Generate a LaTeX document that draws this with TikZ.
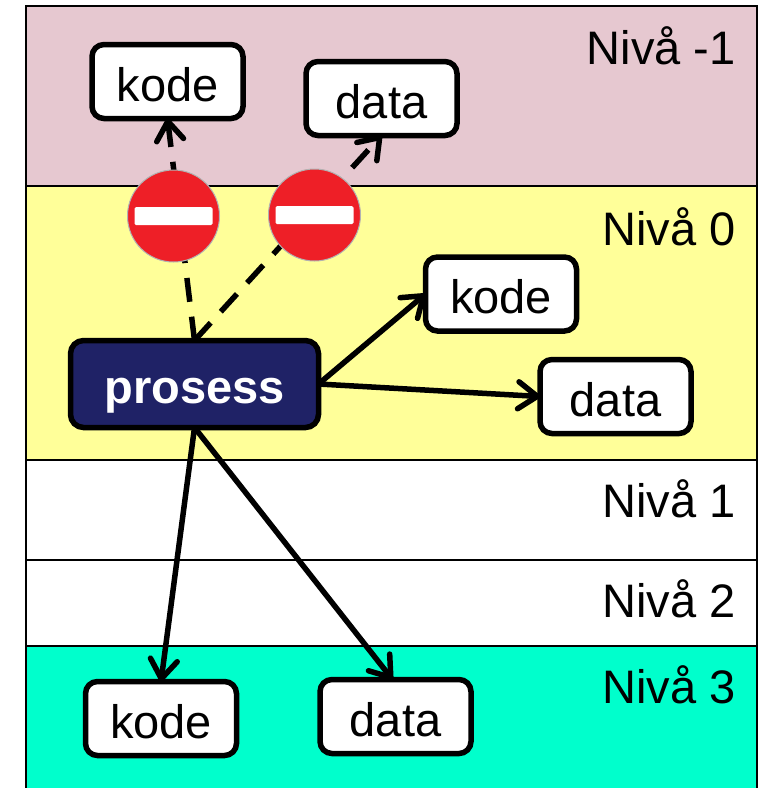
\documentclass[tikz,border=0pt]{standalone}
\usepackage{fontspec}
\setmainfont{Liberation Sans}
\usetikzlibrary{arrows.meta}
\definecolor{bandtop}{HTML}{E6C8D0}
\definecolor{bandyellow}{HTML}{FFFF99}
\definecolor{bandteal}{HTML}{00FFCC}
\definecolor{procblue}{HTML}{1F2266}
\definecolor{signred}{HTML}{EE1F27}
\tikzset{
  x=1pt,y=-1pt,
  band/.style={draw=black,line width=2pt},
  levellabel/.style={anchor=base east,font=\fontsize{47}{47}\selectfont,inner sep=0pt},
  store/.style={draw=black,fill=white,line width=5.5pt,rounded corners=12pt,minimum width=151pt,minimum height=74pt,inner sep=0pt,outer sep=0pt,text height=39pt,text depth=0pt,font=\fontsize{47}{47}\selectfont},
  process/.style={draw=black,fill=procblue,line width=5.5pt,rounded corners=13pt,minimum width=248pt,minimum height=87pt,inner sep=0pt,outer sep=0pt,text=white,text height=38pt,text depth=0pt,font=\fontsize{47}{47}\selectfont\bfseries},
  signdisc/.style={circle,draw=gray!60,fill=signred,line width=1pt,minimum size=92pt,inner sep=0pt},
  signbar/.style={fill=white,rounded corners=1.5pt,minimum width=78pt,minimum height=18pt,inner sep=0pt},
  link/.style={line width=5.5pt,-{Straight Barb[length=19pt,width=27pt,line width=5.5pt,round]}},
  blocked/.style={link,dash pattern=on 24pt off 15pt},
}
\begin{document}
\begin{tikzpicture}
\useasboundingbox (0,0) rectangle (764,788);
\fill[white] (0,0) rectangle (764,788);
\path[band,fill=bandtop] (26,6) rectangle (757,186);
\path[band,fill=bandyellow] (26,186) rectangle (757,460);
\path[band,fill=white] (26,460) rectangle (757,560);
\path[band,fill=white] (26,560) rectangle (757,646);
\path[band,fill=bandteal] (26,646) rectangle (757,800);
\node[levellabel] (l0) at (736,64) {Nivå -1};
\node[levellabel] (l1) at (736,245) {Nivå 0};
\node[levellabel] (l2) at (736,517) {Nivå 1};
\node[levellabel] (l3) at (736,617) {Nivå 2};
\node[levellabel] (l4) at (736,703) {Nivå 3};
\node[store] (kodeA) at (167.5,81.5) {kode};
\node[store] (dataA) at (381.5,98.5) {data};
\node[store] (kodeB) at (501,294) {kode};
\node[store] (dataB) at (615.5,396.5) {data};
\node[store] (kodeC) at (161,718.5) {kode};
\node[store] (dataC) at (395.5,716.5) {data};
\node[process] (prosess) at (194.5,384) {prosess};
\draw[blocked] (prosess.north) -- (kodeA.south);
\draw[blocked] (prosess.north) -- (dataA.south);
\draw[link] (prosess.east) -- (kodeB.west);
\draw[link] (prosess.east) -- (dataB.west);
\draw[link] (prosess.south) -- (kodeC.north);
\draw[link] (prosess.south) -- ([xshift=-3pt]dataC.north);
\node[signdisc] (signA) at (173.5,216) {};
\node[signbar] (barA) at (signA.center) {};
\node[signdisc] (signB) at (314.5,215) {};
\node[signbar] (barB) at (signB.center) {};
\end{tikzpicture}
\end{document}
